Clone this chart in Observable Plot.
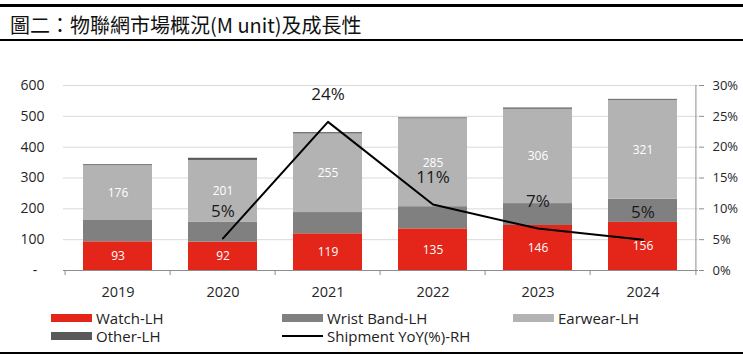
<!DOCTYPE html>
<html><head><meta charset="utf-8">
<script src="https://cdn.jsdelivr.net/npm/d3@7"></script>
<script src="https://cdn.jsdelivr.net/npm/@observablehq/plot@0.6"></script>
<style>
html,body{margin:0;padding:0;background:#fff;}
#wrap{position:relative;width:743px;height:358px;overflow:hidden;font-family:"Open Sans",sans-serif;}
.rule{position:absolute;left:0;width:743px;background:#000;}
#title{position:absolute;left:10px;top:10px;font-family:"Noto Sans CJK TC",sans-serif;font-size:20px;line-height:30px;color:#111;white-space:nowrap;}
#chart{position:absolute;left:0;top:48px;}
.leg{position:absolute;display:flex;align-items:center;font-size:15px;line-height:18px;height:18px;color:#222;white-space:nowrap;}
.sw{display:inline-block;width:41px;height:8px;margin-right:4px;}
.ln{display:inline-block;width:41px;height:2px;margin-right:4px;background:#000;}
</style></head>
<body>
<div id="wrap">
  <div class="rule" style="top:4px;height:3px"></div>
  <div id="title">圖二：物聯網市場概況(M unit)及成長性</div>
  <div class="rule" style="top:39px;height:2px"></div>
  <div id="chart"></div>
  <div id="legend"></div>
  <div class="rule" style="top:352px;height:2px"></div>
</div>
<script>
const years = ["2019", "2020", "2021", "2022", "2023", "2024"];
const seriesNames = ["Watch-LH", "Wrist Band-LH", "Earwear-LH", "Other-LH"];
const watch = [93, 92, 119, 135, 146, 156];
const wristBand = [71, 64, 69, 72, 71, 75];
const earwear = [176, 201, 255, 285, 306, 321];
const other = [3, 7, 4, 3, 4, 3];
const yoyGrowth = [null, 5.2, 24.1, 10.7, 6.8, 5.0];
const lineName = "Shipment YoY(%)-RH";
const leftTicks = [0, 100, 200, 300, 400, 500, 600];
const rightTicks = [0, 5, 10, 15, 20, 25, 30];
const seriesColors = ["#E4261A", "#808080", "#B3B3B3", "#595959"];

const seriesValues = [watch, wristBand, earwear, other];
const rows = seriesNames.flatMap((s, k) => years.map((yr, i) => ({year: yr, series: s, value: seriesValues[k][i]})));
const labeled = new Set(["Watch-LH", "Earwear-LH"]);
const yoyRows = years.map((yr, i) => ({year: yr, yoy: yoyGrowth[i]})).filter(d => d.yoy != null);
const ratio = leftTicks[leftTicks.length - 1] / rightTicks[rightTicks.length - 1];

const W = 743, H = 255, mL = 63, mR = 45, mT = 37, mB = 33;
const step = (W - mL - mR) / years.length;
const axisGray = "#8C8C8C";

const chart = Plot.plot({
  width: W, height: H, marginLeft: mL, marginRight: mR, marginTop: mT, marginBottom: mB,
  style: {fontFamily: "Open Sans", fontSize: "14px", color: "#262626", background: "transparent", overflow: "visible"},
  x: {domain: years, paddingInner: 0.34, paddingOuter: 0.17, axis: null, label: null},
  y: {domain: [leftTicks[0], leftTicks[leftTicks.length - 1]], axis: null, label: null},
  color: {domain: seriesNames, range: seriesColors},
  marks: [
    Plot.gridY(leftTicks.slice(1), {stroke: "#D9D9D9", strokeOpacity: 1}),
    Plot.barY(rows, {x: "year", y: "value", fill: "series", order: seriesNames}),
    Plot.text(rows, Plot.stackY({x: "year", y: "value", z: "series", order: seriesNames,
      text: d => labeled.has(d.series) ? String(d.value) : null, fill: "white", fontSize: 12})),
    Plot.ruleY([0], {stroke: axisGray}),
    Plot.ruleX(years, {x: d => d, y1: 0, y2: 0, dx: -step / 2, insetTop: 5, stroke: axisGray}),
    Plot.ruleX([years[years.length - 1]], {x: d => d, y1: 0, y2: leftTicks[leftTicks.length - 1], dx: step / 2, insetTop: 5, stroke: axisGray}),
    Plot.axisX({tickSize: 0, tickPadding: 16, fontSize: 14.5, label: null}),
    Plot.axisY({anchor: "left", ticks: leftTicks, tickSize: 0, tickPadding: 19, label: null,
      tickFormat: d => d === 0 ? "-\u00a0\u00a0" : String(d), fontSize: 14}),
    Plot.axisY({anchor: "right", ticks: rightTicks.map(v => v * ratio), tickSize: 5, tickPadding: 9, label: null,
      tickFormat: d => (d / ratio) + "%", fontSize: 13, stroke: axisGray}),
    Plot.line(yoyRows, {x: "year", y: d => d.yoy * ratio, stroke: "#000", strokeWidth: 2}),
    Plot.text(yoyRows, {x: "year", y: d => d.yoy * ratio, text: d => Math.round(d.yoy) + "%", dy: -27, fontSize: 17, fill: "#1a1a1a"})
  ]
});
document.getElementById("chart").appendChild(chart);

const legendItems = [
  {name: seriesNames[0], color: seriesColors[0], left: 51, top: 308.5},
  {name: seriesNames[1], color: seriesColors[1], left: 282, top: 308.5},
  {name: seriesNames[2], color: seriesColors[2], left: 513, top: 308.5},
  {name: seriesNames[3], color: seriesColors[3], left: 51, top: 327},
  {name: lineName, color: null, left: 282, top: 327}
];
const legend = document.getElementById("legend");
for (const it of legendItems) {
  const d = document.createElement("div");
  d.className = "leg";
  d.style.left = it.left + "px";
  d.style.top = it.top + "px";
  const s = document.createElement("span");
  if (it.color) { s.className = "sw"; s.style.background = it.color; } else { s.className = "ln"; }
  d.appendChild(s);
  d.appendChild(document.createTextNode(it.name));
  legend.appendChild(d);
}
</script>
</body></html>
